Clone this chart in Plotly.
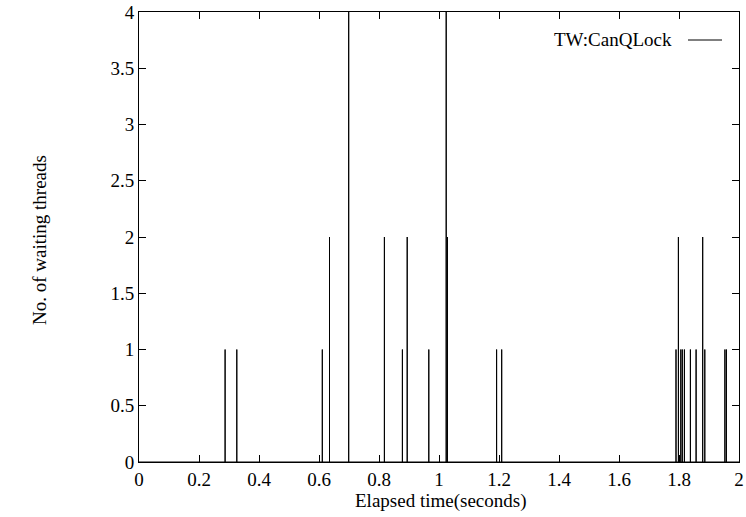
import plotly.graph_objects as go

# Spike times (seconds) and number of waiting threads
times = [0.287, 0.326, 0.611, 0.635, 0.699, 0.818, 0.878, 0.894, 0.966, 1.024, 1.028,
         1.192, 1.209, 1.790, 1.798, 1.806, 1.811, 1.818, 1.838, 1.857, 1.879, 1.886,
         1.953, 1.958]
counts = [1, 1, 1, 2, 4, 2, 1, 2, 1, 4, 2,
          1, 1, 1, 2, 1, 1, 1, 1, 1, 2, 1,
          1, 1]
series_name = "TW:CanQLock"
x_start, x_end = 0.0, 2.0

# Build the path: baseline at 0, jumping to count at each event
xs = [x_start]
ys = [0]
for t, c in zip(times, counts):
    xs += [t, t, t]
    ys += [0, c, 0]
xs.append(x_end)
ys.append(0)

fig = go.Figure()
fig.add_trace(go.Scatter(x=xs, y=ys, mode="lines", line=dict(color="black", width=1),
                         name=series_name, showlegend=False))

font = dict(family="Liberation Serif, Times New Roman, serif", size=19, color="black")

W, H = 746, 517
L, R, T, B = 139, 7, 12, 55
plot_w = W - L - R
plot_h = H - T - B

fig.update_layout(
    width=W, height=H,
    margin=dict(l=L, r=R, t=T, b=B, autoexpand=False),
    paper_bgcolor="white", plot_bgcolor="white",
    font=font,
    xaxis=dict(range=[0, 2], dtick=0.2, tick0=0, ticks="inside", ticklen=7, tickcolor="black",
               showline=True, linecolor="black", linewidth=1, mirror="ticks",
               showgrid=False, zeroline=False, automargin=False, ticklabeloverflow="allow"),
    yaxis=dict(range=[0, 4], dtick=0.5, tick0=0, ticks="inside", ticklen=7, tickcolor="black",
               showline=True, linecolor="black", linewidth=1, mirror="ticks",
               showgrid=False, zeroline=False, automargin=False, ticklabeloverflow="allow"),
)

def px_x(p):
    return (p - L) / plot_w

def px_y(p):
    return (H - B - p) / plot_h

# Axis titles
fig.add_annotation(x=px_x(440), y=px_y(501), xref="paper", yref="paper",
                   text="Elapsed time(seconds)", showarrow=False,
                   xanchor="center", yanchor="middle", font=font)
fig.add_annotation(x=px_x(40), y=px_y(240), xref="paper", yref="paper",
                   text="No. of waiting threads", showarrow=False, textangle=-90,
                   xanchor="center", yanchor="middle", font=font)

# gnuplot-style key: text then line sample to the right
fig.add_annotation(x=px_x(674), y=px_y(40), xref="paper", yref="paper", text=series_name,
                   showarrow=False, xanchor="right", yanchor="middle", font=font)
fig.add_shape(type="line", xref="paper", yref="paper",
              x0=px_x(688), x1=px_x(722), y0=px_y(40), y1=px_y(40),
              line=dict(color="black", width=1))

# remove the default 8px page margin so the figure sits at the window's corner
fig.write_html("out.html", config={"displayModeBar": False},
               post_script="document.body.style.margin='0px';")
